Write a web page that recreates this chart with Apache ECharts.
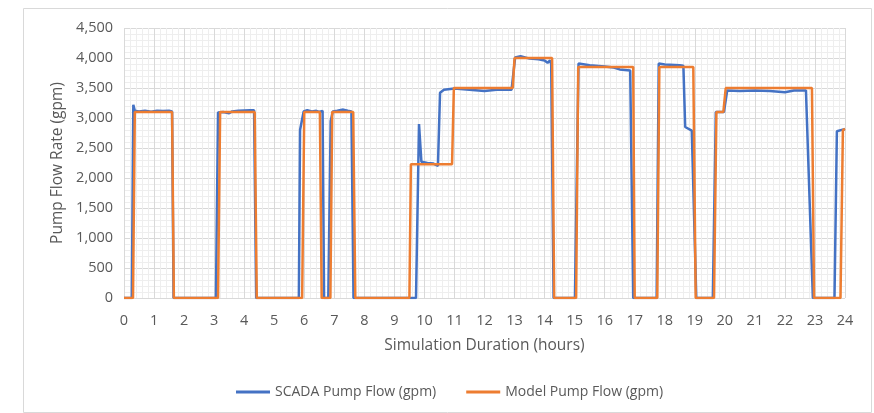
<!DOCTYPE html>
<html>
<head>
<meta charset="utf-8">
<script src="https://cdn.jsdelivr.net/npm/echarts@6/dist/echarts.min.js"></script>
<style>
  html, body { margin: 0; padding: 0; background: #fff; }
  #chart { width: 874px; height: 413px; }
</style>
</head>
<body>
<div id="chart"></div>
<script>
// hours / flow (gpm)
let scadaHours = [0, 0.26, 0.31, 0.36, 0.5, 0.7, 0.9, 1.1, 1.3, 1.5, 1.6, 1.65,
  3.06, 3.13, 3.3, 3.5, 3.6, 3.8, 4.0, 4.2, 4.33, 4.4,
  5.82, 5.86, 5.98, 6.1, 6.25, 6.4, 6.5, 6.55, 6.61, 6.66,
  6.8, 6.88, 6.95, 7.1, 7.3, 7.45, 7.57, 7.64,
  9.72, 9.82, 9.9, 10.1, 10.3, 10.45, 10.52, 10.65, 11.0, 11.5, 12.0, 12.4, 12.9,
  13.02, 13.2, 13.5, 13.8, 14.0, 14.1, 14.18, 14.22, 14.3,
  15.01, 15.13, 15.5, 16.0, 16.3, 16.5, 16.85, 16.95,
  17.73, 17.8, 18.0, 18.5, 18.62, 18.68, 18.9, 19.05,
  19.6, 19.7, 19.97, 20.08, 20.5, 21.0, 21.5, 22.0, 22.3, 22.7, 22.93,
  23.65, 23.73, 23.95, 24];
let scadaFlow = [0, 0, 3220, 3120, 3110, 3120, 3105, 3120, 3115, 3120, 3110, 0,
  0, 3090, 3100, 3080, 3110, 3120, 3125, 3130, 3130, 0,
  0, 2800, 3110, 3130, 3110, 3120, 3100, 3130, 3120, 0,
  0, 2950, 3110, 3120, 3140, 3120, 3110, 0,
  0, 2900, 2270, 2250, 2240, 2200, 3420, 3470, 3490, 3470, 3450, 3470, 3470,
  4010, 4030, 3990, 3980, 3960, 3920, 3960, 3900, 0,
  0, 3910, 3880, 3860, 3840, 3810, 3790, 0,
  0, 3910, 3890, 3880, 3870, 2850, 2790, 0,
  0, 3100, 3100, 3460, 3450, 3460, 3450, 3430, 3460, 3460, 0,
  0, 2780, 2810, 2810];

let modelHours = [0, 0.3, 0.36, 1.6, 1.66, 3.13, 3.2, 4.35, 4.42, 5.93, 6.0, 6.52, 6.58,
  6.87, 6.93, 7.63, 7.7, 9.5, 9.55, 10.92, 10.98, 12.94, 13.0, 14.25, 14.32,
  15.05, 15.12, 16.95, 17.0, 17.75, 17.82, 18.95, 19.03, 19.64, 19.72, 19.95, 20.03,
  22.9, 22.97, 23.85, 23.93, 24];
let modelFlow = [0, 0, 3100, 3100, 0, 0, 3100, 3100, 0, 0, 3100, 3100, 0,
  0, 3100, 3100, 0, 0, 2230, 2230, 3500, 3500, 4000, 4000, 0,
  0, 3850, 3850, 0, 0, 3850, 3850, 0, 0, 3100, 3100, 3500,
  3500, 0, 0, 2800, 2820];

let yTicks = [0, 500, 1000, 1500, 2000, 2500, 3000, 3500, 4000, 4500];

let zip = (xs, ys) => xs.map((x, i) => [x, ys[i]]);

let labelColor = '#595959';
let font = 'Open Sans';

let myChart = echarts.init(document.getElementById('chart'));
myChart.setOption({
  animation: false,
  textStyle: { fontFamily: font },
  graphic: [{
    type: 'rect',
    shape: { x: 23.5, y: 8.5, width: 848, height: 404 },
    style: { fill: 'none', stroke: '#d9d9d9', lineWidth: 1 },
    silent: true
  }],
  grid: { left: 124, right: 29, top: 28, bottom: 115 },
  legend: {
    bottom: 9,
    left: 231,
    itemGap: 30,
    itemWidth: 34,
    itemHeight: 3,
    textStyle: { color: labelColor, fontSize: 14, fontFamily: font },
    data: [
      { name: 'SCADA Pump Flow (gpm)', icon: 'rect' },
      { name: 'Model Pump Flow (gpm)', icon: 'rect' }
    ]
  },
  xAxis: {
    type: 'value',
    min: 0,
    max: 24,
    interval: 1,
    name: 'Simulation Duration (hours)',
    nameLocation: 'middle',
    nameGap: 40,
    nameTextStyle: { color: labelColor, fontSize: 15.5, fontFamily: font },
    axisLine: { show: false },
    axisTick: { show: false },
    axisLabel: { color: labelColor, fontSize: 14.5, margin: 15 },
    splitLine: { show: true, lineStyle: { color: '#d9d9d9', width: 1 } },
    minorTick: { show: false, splitNumber: 5 },
    minorSplitLine: { show: true, lineStyle: { color: '#eeeeee', width: 1 } }
  },
  yAxis: {
    type: 'value',
    min: yTicks[0],
    max: yTicks[yTicks.length - 1],
    interval: 500,
    name: 'Pump Flow Rate (gpm)',
    nameLocation: 'middle',
    nameGap: 52,
    nameTextStyle: { color: labelColor, fontSize: 15.5, fontFamily: font },
    axisLine: { show: false },
    axisTick: { show: false },
    axisLabel: {
      color: labelColor,
      fontSize: 14.5,
      margin: 11,
      formatter: v => v.toLocaleString('en-US')
    },
    splitLine: { show: true, lineStyle: { color: '#d9d9d9', width: 1 } },
    minorTick: { show: false, splitNumber: 5 },
    minorSplitLine: { show: true, lineStyle: { color: '#eeeeee', width: 1 } }
  },
  series: [
    {
      name: 'SCADA Pump Flow (gpm)',
      type: 'line',
      data: zip(scadaHours, scadaFlow),
      symbol: 'none',
      color: '#4472C4',
      lineStyle: { color: '#4472C4', width: 2.5 }
    },
    {
      name: 'Model Pump Flow (gpm)',
      type: 'line',
      data: zip(modelHours, modelFlow),
      symbol: 'none',
      color: '#ED7D31',
      lineStyle: { color: '#ED7D31', width: 2.5 }
    }
  ]
});
</script>
</body>
</html>
